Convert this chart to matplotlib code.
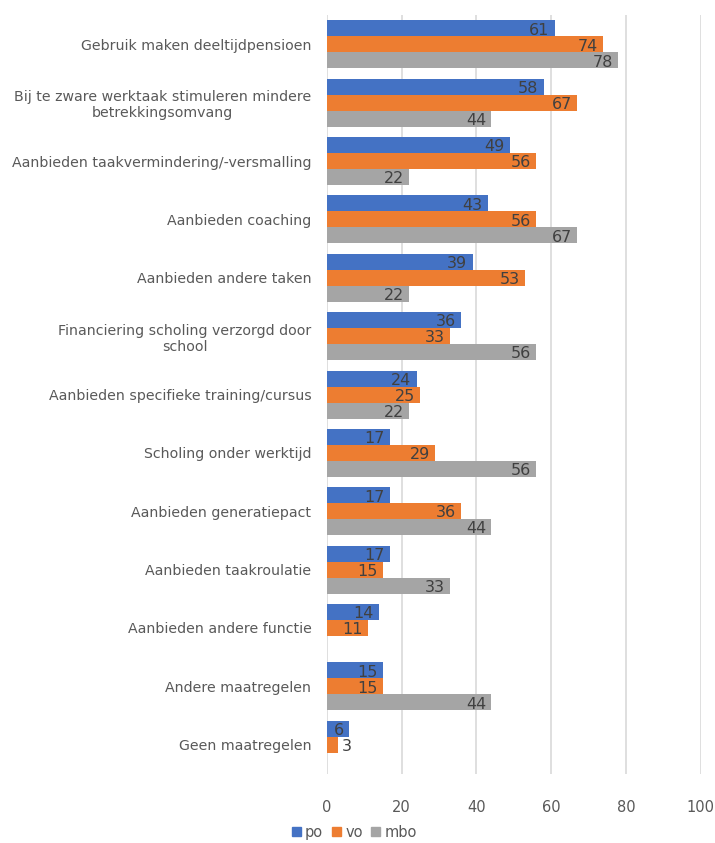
"""Maatregelen per sector: horizontaal gegroepeerde staafdiagram."""

import numpy as np
import matplotlib.pyplot as plt
from matplotlib.patches import Patch

categories = [
    "Gebruik maken deeltijdpensioen",
    "Bij te zware werktaak stimuleren mindere\nbetrekkingsomvang",
    "Aanbieden taakvermindering/-versmalling",
    "Aanbieden coaching",
    "Aanbieden andere taken",
    "Financiering scholing verzorgd door\nschool",
    "Aanbieden specifieke training/cursus",
    "Scholing onder werktijd",
    "Aanbieden generatiepact",
    "Aanbieden taakroulatie",
    "Aanbieden andere functie",
    "Andere maatregelen",
    "Geen maatregelen",
]
po = [61, 58, 49, 43, 39, 36, 24, 17, 17, 17, 14, 15, 6]
vo = [74, 67, 56, 56, 53, 33, 25, 29, 36, 15, 11, 15, 3]
mbo = [78, 44, 22, 67, 22, 56, 22, 56, 44, 33, np.nan, 44, np.nan]
series = ["po", "vo", "mbo"]
xticks = [0, 20, 40, 60, 80, 100]

COLORS = {"po": "#4472C4", "vo": "#ED7D31", "mbo": "#A5A5A5"}
TEXT = "#595959"
LABEL = "#404040"

plt.rcParams["font.family"] = "DejaVu Sans"

fig = plt.figure(figsize=(7.15, 8.43), dpi=100)
ax = fig.add_axes([0.457, 0.082, 0.523, 0.900])

y = np.arange(len(categories))
h = 0.274
for i, (name, vals) in enumerate(zip(series, [po, vo, mbo])):
    vals = np.array(vals, dtype=float)
    pos = y + (i - 1) * h
    ax.barh(pos, vals, height=h, color=COLORS[name], label=name, zorder=2)
    for p, v in zip(pos, vals):
        if np.isnan(v):
            continue
        if v < 5:
            ax.text(v + 1.0, p + 0.03, f"{v:.0f}", va="center", ha="left",
                    fontsize=11.5, color=LABEL, zorder=3)
        else:
            ax.text(v - 1.4, p + 0.03, f"{v:.0f}", va="center", ha="right",
                    fontsize=11.5, color=LABEL, zorder=3)

ax.set_ylim(len(categories) - 0.5, -0.5)
ax.set_xlim(0, 100)
ax.set_xticks(xticks)
ax.set_yticks(y)
ax.set_yticklabels(categories, fontsize=10.2, color=TEXT, ha="right",
                   multialignment="center")
ax.tick_params(axis="y", length=0, pad=11)
ax.tick_params(axis="x", length=0, pad=19, labelsize=10.5, labelcolor=TEXT)
ax.grid(axis="x", color="#D9D9D9", linewidth=1.2, zorder=0)
for s in ax.spines.values():
    s.set_visible(False)

handles = [Patch(color=COLORS[s], label=s) for s in series]
fig.legend(handles=handles, loc="lower left", bbox_to_anchor=(0.39, -0.012),
           ncol=3, frameon=False, fontsize=10.5, labelcolor=TEXT,
           handlelength=0.6, handleheight=0.6, handletextpad=0.3,
           columnspacing=0.6)

fig.savefig("out.png", dpi=100)
